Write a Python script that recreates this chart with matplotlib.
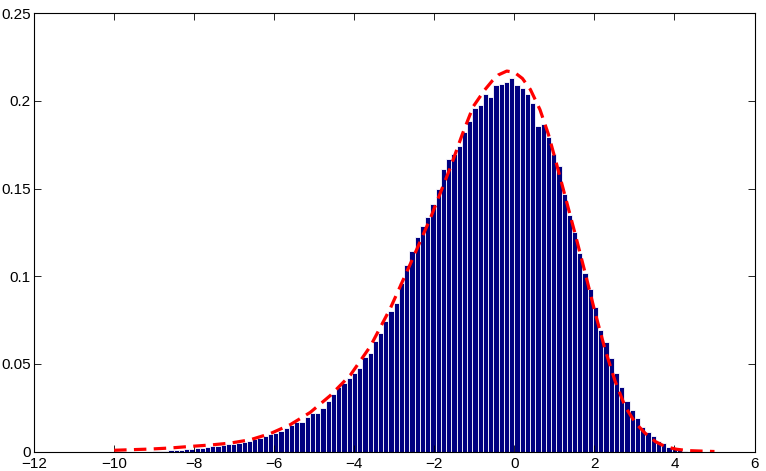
import numpy as np
import matplotlib
matplotlib.use("Agg")
import matplotlib.pyplot as plt

plt.rcParams['font.family'] = ['Liberation Sans', 'DejaVu Sans']

# histogram: first bin edge, bin width, bar heights (normalised counts)
bin_lo = -9.04
bin_w = 0.131
heights = [0.0003, 0.0004, 0.0006, 0.0008, 0.0010, 0.0012, 0.0014, 0.0017, 0.0020, 0.0022,
           0.0027, 0.0030, 0.0035, 0.0040, 0.0043, 0.0045, 0.0050, 0.0055, 0.0063, 0.0072,
           0.0080, 0.0090, 0.0100, 0.0105, 0.0120, 0.0135, 0.0150, 0.0170, 0.0170, 0.0200,
           0.0220, 0.0220, 0.0250, 0.0290, 0.0330, 0.0370, 0.0390, 0.0418, 0.0446, 0.0475,
           0.0537, 0.0560, 0.0632, 0.0674, 0.0746, 0.0803, 0.0849, 0.0960, 0.1064, 0.1146,
           0.1226, 0.1287, 0.1340, 0.1412, 0.1500, 0.1610, 0.1670, 0.1696, 0.1740, 0.1825,
           0.1886, 0.1958, 0.1977, 0.2040, 0.2024, 0.2090, 0.2097, 0.2106, 0.2129, 0.2090,
           0.2072, 0.2038, 0.1990, 0.1857, 0.1868, 0.1793, 0.1700, 0.1630, 0.1470, 0.1350,
           0.1255, 0.1135, 0.1018, 0.0927, 0.0827, 0.0694, 0.0624, 0.0536, 0.0447, 0.0367,
           0.0291, 0.0238, 0.0190, 0.0143, 0.0114, 0.0090, 0.0061, 0.0048, 0.0029, 0.0021,
           0.0014, 0.0006]

# fitted density (red dashed)
fit_x = [-10.0, -9.1, -8.6, -8.1, -7.6, -7.1, -6.6, -6.1, -5.6, -5.1, -4.6, -4.1, -3.6,
         -3.1, -2.6, -2.1, -1.6, -1.3, -1.03, -0.75, -0.55, -0.4, -0.19, 0.0, 0.2, 0.4,
         0.64, 0.85, 1.06, 1.27, 1.52, 1.77, 2.02, 2.27, 2.52, 2.77, 3.02, 3.27, 3.52,
         3.77, 4.05, 4.34, 5.0]
fit_y = [0.0008, 0.0015, 0.0021, 0.0030, 0.0038, 0.0049, 0.0068, 0.0103, 0.0154, 0.0224,
         0.0320, 0.0436, 0.0600, 0.0817, 0.1070, 0.1330, 0.1620, 0.1810, 0.1967, 0.2060,
         0.2115, 0.2148, 0.2170, 0.2163, 0.2128, 0.2065, 0.1950, 0.1810, 0.1635, 0.1455,
         0.1240, 0.1018, 0.0790, 0.0580, 0.0400, 0.0256, 0.0165, 0.0105, 0.0058, 0.0029,
         0.0014, 0.0006, 0.0001]

xticks = [-12, -10, -8, -6, -4, -2, 0, 2, 4, 6]
yticks = [0, 0.05, 0.1, 0.15, 0.2, 0.25]
ytick_labels = ['0', '0.05', '0.1', '0.15', '0.2', '0.25']

fig = plt.figure(figsize=(7.66, 4.71), dpi=100, facecolor='white')
ax = fig.add_axes([0.0445, 0.041, 0.9405, 0.931])

centers = bin_lo + bin_w * (np.arange(len(heights)) + 0.5)
ax.bar(centers, heights, width=bin_w, color='#000080', edgecolor='white', linewidth=0.6)
ax.plot(fit_x, fit_y, color='#ff0000', linewidth=2.3, dashes=(3.9, 2.3))

ax.set_xlim(-12, 6)
ax.set_ylim(0, 0.25)
ax.set_xticks(xticks)
ax.set_xticklabels(['\u2212%d' % -t if t < 0 else '%d' % t for t in xticks])
ax.set_yticks(yticks)
ax.set_yticklabels(ytick_labels)
ax.tick_params(direction='in', length=5, width=0.6, top=True, right=True,
               labelsize=11, pad=2.5)
ax.tick_params(axis='x', pad=4)
for s in ax.spines.values():
    s.set_linewidth(0.8)

fig.savefig('out.png', dpi=100)
